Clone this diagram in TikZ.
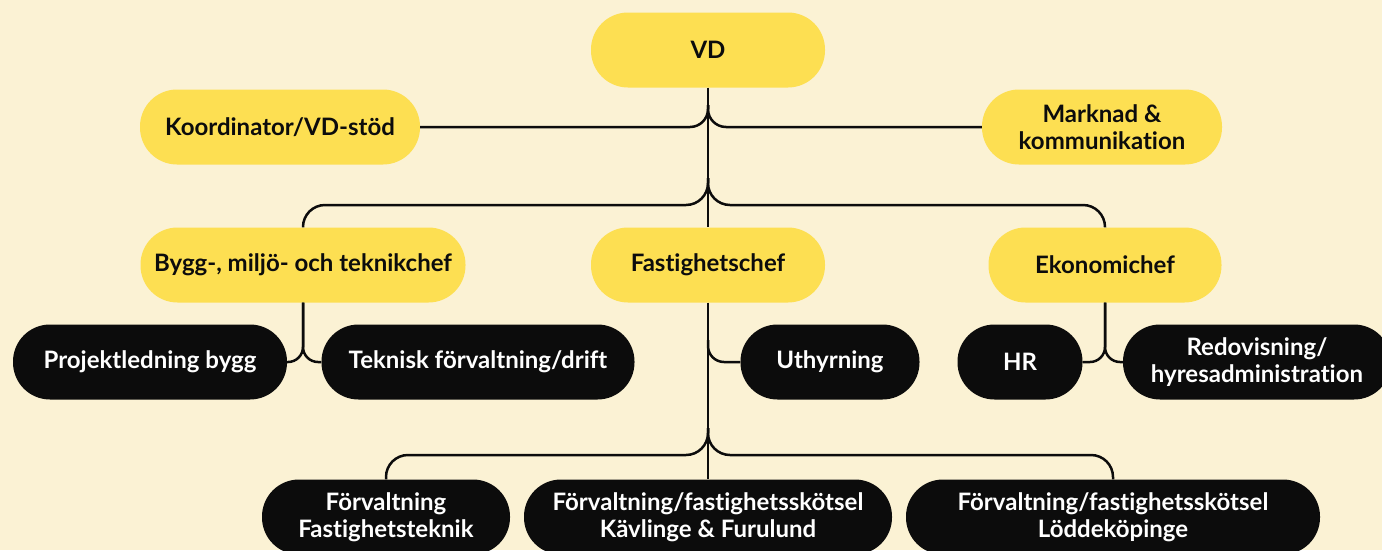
\documentclass[tikz,border=0pt]{standalone}
\usepackage{fontspec}
\setmainfont{Lato}[Ligatures=NoCommon]
\definecolor{bg}{RGB}{251,242,212}
\definecolor{ylw}{RGB}{253,223,82}
\definecolor{ink}{RGB}{12,12,12}
\tikzset{
  pill/.style={rectangle, rounded corners=37pt, minimum height=75pt, inner sep=0pt,
    align=center, font=\fontsize{24}{26.5}\selectfont\bfseries},
  ybox/.style={pill, fill=ylw, text=ink},
  kbox/.style={pill, fill=ink, text=white},
  conn/.style={draw=ink, line width=2.5pt},
}
\begin{document}
\begin{tikzpicture}[x=1pt,y=-1pt]
\fill[bg] (0,0) rectangle (1382,550);
\useasboundingbox (0,0) rectangle (1382,550);
\clip (0,0) rectangle (1382,550);

% nodes
\node[ybox, minimum width=234pt] (vd) at (708,50) {VD};
\node[ybox, minimum width=280pt] (koord) at (280,127) {Koordinator/VD-stöd};
\node[ybox, minimum width=240pt] (mark) at (1102,127) {Marknad \&\\kommunikation};
\node[ybox, minimum width=325pt] (bygg) at (303,265) {Bygg-, miljö- och teknikchef};
\node[ybox, minimum width=234pt] (fast) at (708,265) {Fastighetschef};
\node[ybox, minimum width=233pt] (eko) at (1105,265) {Ekonomichef};
\node[kbox, minimum width=274pt] (proj) at (150,362) {Projektledning bygg};
\node[kbox, minimum width=313pt] (tekn) at (478,362) {Teknisk förvaltning/drift};
\node[kbox, minimum width=179pt] (uthyr) at (830,362) {Uthyrning};
\node[kbox, minimum width=125pt] (hr) at (1020,362) {HR};
\node[kbox, minimum width=268pt] (redov) at (1257,362) {Redovisning/\\hyresadministration};
\node[kbox, minimum width=248pt] (forv) at (386,517) {Förvaltning\\Fastighetsteknik};
\node[kbox, minimum width=368pt] (kav) at (708,517) {Förvaltning/fastighetsskötsel\\Kävlinge \& Furulund};
\node[kbox, minimum width=414pt] (lodd) at (1113,517) {Förvaltning/fastighetsskötsel\\Löddeköpinge};

% junction coordinates
\coordinate (j1) at (708,105);
\coordinate (j2) at (708,178);
\coordinate (bus2) at (0,205);
\coordinate (j3) at (708,340);
\coordinate (j4) at (708,428);
\coordinate (bus4) at (0,455);

% connectors
\draw[conn] (vd.south) -- (fast.north);
\draw[conn] (fast.south) -- (kav.north);
\draw[conn, rounded corners=18pt] (j1) |- (koord.east);
\draw[conn, rounded corners=18pt] (j1) |- (mark.west);
\draw[conn, rounded corners=22pt] (j2) |- (bus2 -| bygg.north) -- (bygg.north);
\draw[conn, rounded corners=22pt] (j2) |- (bus2 -| eko.north) -- (eko.north);
\draw[conn, rounded corners=15pt] (bygg.south) |- (proj.east);
\draw[conn, rounded corners=15pt] (bygg.south) |- (tekn.west);
\draw[conn, rounded corners=16pt] (j3) |- (uthyr.west);
\draw[conn, rounded corners=15pt] (eko.south) |- (hr.east);
\draw[conn, rounded corners=15pt] (eko.south) |- (redov.west);
\draw[conn, rounded corners=22pt] (j4) |- (bus4 -| forv.north) -- (forv.north);
\draw[conn, rounded corners=22pt] (j4) |- (bus4 -| lodd.north) -- (lodd.north);
\end{tikzpicture}
\end{document}
